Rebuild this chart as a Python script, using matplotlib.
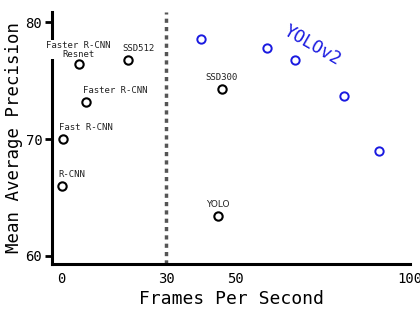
import matplotlib
matplotlib.use("Agg")
import matplotlib.pyplot as plt

# Data (FPS, mAP)
names = ["R-CNN", "Fast R-CNN", "Faster R-CNN", "Faster R-CNN\nResnet", "SSD512", "SSD300", "YOLO"]
fps = [0.05, 0.5, 7, 5, 19, 46, 45]
mAP = [66.0, 70.0, 73.2, 76.4, 76.8, 74.3, 63.4]

yolov2_fps = [40, 59, 67, 81, 91]
yolov2_map = [78.6, 77.8, 76.8, 73.7, 69.0]

xticks = [0, 30, 50, 100]
yticks = [60, 70, 80]
realtime_fps = 30

plt.rcParams['font.family'] = ['DejaVu Sans Mono', 'DejaVu Sans']

fig = plt.figure(figsize=(4.2, 3.15), dpi=100)
ax = fig.add_axes([0.124, 0.162, 0.852, 0.80])

ax.set_xlim(-2.7, 100)
ax.set_ylim(59.3, 80.9)

ax.axvline(realtime_fps, color="#555555", lw=2.5, linestyle=(0, (1.2, 1.2)), zorder=1)

ax.plot(fps, mAP, linestyle="none", marker="o", ms=6, mfc="white", mec="black", mew=1.5, zorder=3)
ax.plot(yolov2_fps, yolov2_map, linestyle="none", marker="o", ms=6, mfc="white", mec="#1a1ae0", mew=1.4, zorder=3)

# label offsets in points (styling only)
offsets = {
    "R-CNN": ((-2.5, 5), "left"),
    "Fast R-CNN": ((-3, 5), "left"),
    "Faster R-CNN": ((21, 5), "center"),
    "Faster R-CNN\nResnet": ((-0.5, 4), "center"),
    "SSD512": ((7.5, 5), "center"),
    "SSD300": ((-0.5, 5), "center"),
    "YOLO": ((0, 5), "center"),
}
for n, x, y in zip(names, fps, mAP):
    off, ha = offsets[n]
    fam = ['DejaVu Sans'] if n == "YOLO" else ['DejaVu Sans Mono']
    ax.annotate(n, (x, y), xytext=off, textcoords="offset points",
                ha=ha, va="bottom", fontsize=6.5, color="#222222", family=fam,
                linespacing=1.0,
                bbox=dict(boxstyle="square,pad=0.05", fc="white", ec="none"), zorder=4)

ax.text(72, 78.0, "YOLOv2", color="#1a1ae0", fontsize=12.5, rotation=-30,
        ha="center", va="center", rotation_mode="anchor")

ax.set_xticks(xticks)
ax.set_yticks(yticks)
ax.tick_params(axis="y", length=5, width=2, labelsize=10, pad=2)
ax.tick_params(axis="x", length=0, labelsize=10, pad=6)

for s in ["top", "right"]:
    ax.spines[s].set_visible(False)
for s in ["left", "bottom"]:
    ax.spines[s].set_linewidth(2.2)
ax.spines["left"].set_zorder(0)

ax.set_xlabel("Frames Per Second", fontsize=13, labelpad=3)
ax.set_ylabel("Mean Average Precision", fontsize=12.5, labelpad=2)

fig.savefig("out.png", dpi=100)
